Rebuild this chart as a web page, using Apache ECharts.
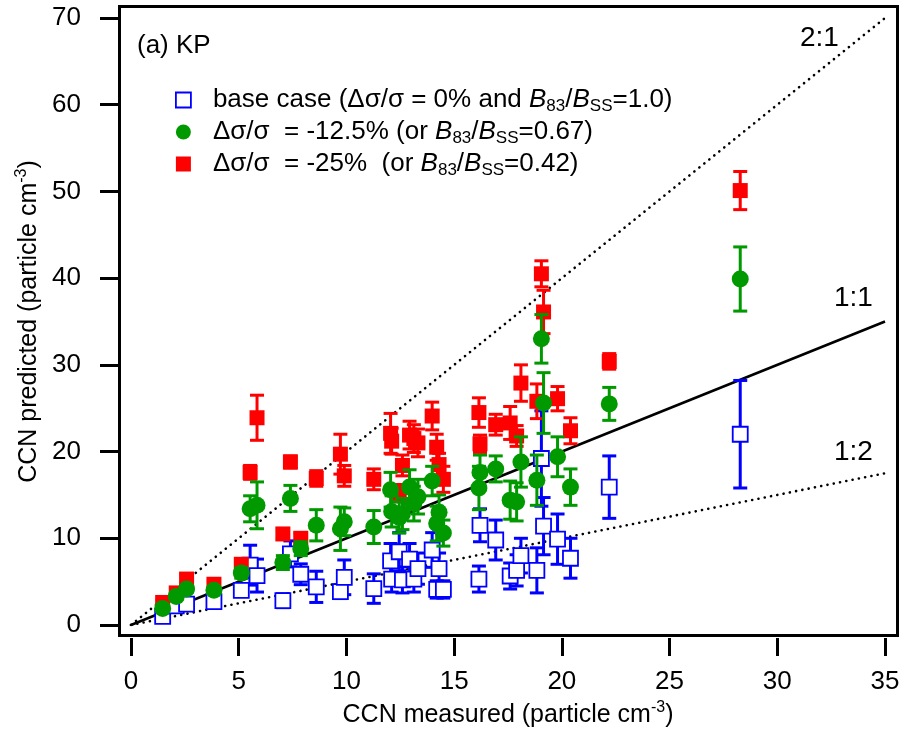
<!DOCTYPE html>
<html><head><meta charset="utf-8">
<script src="https://cdn.jsdelivr.net/npm/echarts@6/dist/echarts.min.js"></script>
<style>html,body{margin:0;padding:0;background:#fff}#c{width:905px;height:738px}</style>
</head><body><div id="c"></div>
<script>
// CCN measured (x) shared by all three cases
const ccnMeasured = [1.47, 2.1, 2.58, 3.85, 5.12, 5.53, 5.85, 7.05, 7.4, 7.88, 8.6, 9.72, 9.9, 11.27,
  12.05, 12.1, 12.45, 12.6, 12.93, 13.13, 13.32, 13.98, 14.19, 14.3, 14.5,
  16.15, 16.2, 16.93, 17.6, 17.9, 18.1, 18.84, 19.05, 19.15, 19.8, 20.4, 22.2, 28.28];
// base case
const predBase = [1.0, 2.2, 2.4, 2.7, 4.0, 6.9, 5.7, 2.8, 8.2, 5.85, 4.4, 3.85, 5.5, 4.2,
  7.4, 5.3, 8.45, 5.2, 7.6, 5.3, 6.5, 8.65, 4.1, 6.5, 4.1,
  5.3, 11.5, 9.8, 5.65, 6.3, 8.0, 6.3, 19.2, 11.4, 9.9, 7.7, 15.9, 22.0];
const errBase = [0.2, 0.3, 0.3, 0.4, 0.6, 2.3, 1.9, 0.8, 1.5, 1.2, 1.8, 0.8, 2.0, 1.7,
  2.0, 1.5, 2.2, 1.5, 1.8, 1.5, 1.8, 2.0, 1.0, 1.8, 1.0,
  1.5, 1.9, 2.3, 1.5, 1.8, 2.0, 2.6, 5.5, 3.3, 2.9, 2.3, 3.6, 6.2];
// -12.5 %
const predM125 = [1.9, 3.3, 4.15, 4.0, 6.0, 13.4, 13.8, 7.2, 14.6, 8.8, 11.5, 11.1, 11.9, 11.3,
  15.6, 13.1, 12.4, 12.8, 15.9, 14.0, 14.8, 16.6, 11.7, 13.0, 10.6,
  15.8, 17.6, 18.0, 14.4, 14.2, 18.8, 16.7, 33.0, 25.6, 19.4, 15.9, 25.5, 39.9];
const errM125 = [0.3, 0.4, 0.4, 0.4, 0.6, 1.5, 2.7, 0.8, 1.5, 0.8, 1.8, 2.5, 1.6, 1.9,
  2.0, 1.8, 1.8, 1.8, 2.0, 2.0, 2.0, 1.7, 2.0, 2.0, 1.5,
  2.5, 2.0, 1.5, 2.2, 2.2, 2.9, 2.9, 2.8, 3.5, 2.3, 2.1, 1.9, 3.7];
// -25 %
const predM25 = [2.6, 3.7, 5.3, 4.7, 7.0, 17.6, 23.9, 10.5, 18.8, 10.0, 16.9, 19.7, 17.2, 16.8,
  22.1, 21.2, 15.2, 18.4, 21.9, 21.5, 21.0, 24.1, 20.5, 18.5, 16.8,
  24.5, 20.9, 23.1, 23.3, 21.8, 27.9, 25.8, 40.5, 36.1, 26.1, 22.4, 30.4, 50.1];
const errM25 = [0.3, 0.4, 0.5, 0.4, 0.6, 0.8, 2.6, 0.6, 0.7, 0.6, 0.9, 2.3, 1.2, 1.2,
  2.3, 1.5, 1.0, 1.2, 1.6, 1.6, 1.6, 1.6, 1.5, 1.3, 1.5,
  1.7, 1.0, 1.2, 1.9, 1.2, 2.1, 2.0, 1.5, 2.5, 1.4, 1.5, 0.9, 2.2];
const xTicks = [0, 5, 10, 15, 20, 25, 30, 35];
const yTicks = [0, 10, 20, 30, 40, 50, 60, 70];
const ratioLines = [{label: '2:1', slope: 2}, {label: '1:1', slope: 1}, {label: '1:2', slope: 0.5}];

const FONT = 'Liberation Sans, Arial, Helvetica, sans-serif';
const BLUE = '#0000ff', GREEN = '#009900', RED = '#ff0000';

const chart = echarts.init(document.getElementById('c'), null, {renderer: 'canvas'});

function pts(ys) { return ccnMeasured.map((x, i) => [x, ys[i]]); }
function errs(ys, es) { return ccnMeasured.map((x, i) => [x, ys[i] - es[i], ys[i] + es[i]]); }
function errRender(color) {
  return function (params, api) {
    const x = api.value(0), lo = api.value(1), hi = api.value(2);
    const a = api.coord([x, hi]), b = api.coord([x, lo]);
    const hw = 7, st = {stroke: color, lineWidth: 3};
    return {type: 'group', children: [
      {type: 'line', shape: {x1: a[0], y1: a[1], x2: b[0], y2: b[1]}, style: st},
      {type: 'line', shape: {x1: a[0] - hw, y1: a[1], x2: a[0] + hw, y2: a[1]}, style: st},
      {type: 'line', shape: {x1: b[0] - hw, y1: b[1], x2: b[0] + hw, y2: b[1]}, style: st}
    ]};
  };
}

const xMax = xTicks[xTicks.length - 1];
const lineSeries = ratioLines.map(r => ({
  type: 'line', name: r.label, data: [[0, 0], [xMax, xMax * r.slope]],
  symbol: 'none', silent: true, z: 1,
  lineStyle: r.slope === 1 ? {color: '#000', width: 2.6} : {color: '#000', width: 2.6, type: [0.1, 6.3], cap: 'round'}
}));

const legendNames = {
  'base case': '{t|base case (Δσ/σ = 0% and }{i|B}{s|83}{t|/}{i|B}{s|SS}{t|=1.0)}',
  '-12.5%': '{t|Δσ/σ  = -12.5% (or }{i|B}{s|83}{t|/}{i|B}{s|SS}{t|=0.67)}',
  '-25%': '{t|Δσ/σ  = -25%  (or }{i|B}{s|83}{t|/}{i|B}{s|SS}{t|=0.42)}'
};
const rich = {
  t: {fontSize: 26, fontFamily: FONT, color: '#000', lineHeight: 30},
  i: {fontSize: 26, fontFamily: FONT, fontStyle: 'italic', color: '#000', lineHeight: 30},
  s: {fontSize: 17, fontFamily: FONT, color: '#000', lineHeight: 17, verticalAlign: 'bottom'},
  sup: {fontSize: 16, fontFamily: FONT, color: '#000', lineHeight: 16, verticalAlign: 'top'},
  a: {fontSize: 25, fontFamily: FONT, color: '#000', lineHeight: 30}
};
const labelStyle = () => ({font: '28px ' + FONT, fill: '#000', verticalAlign: 'middle'});

const option = {
  backgroundColor: '#fff',
  animation: false,
  grid: {left: 131, right: 20, top: 18, bottom: 113, containLabel: false},
  xAxis: {
    type: 'value', min: 0, max: xMax, interval: 5, position: 'bottom', offset: 13,
    axisLine: {show: false, onZero: false},
    axisTick: {show: true, length: 18, inside: false, lineStyle: {color: '#000', width: 3}},
    axisLabel: {fontSize: 26, fontFamily: FONT, color: '#000', margin: 31, customValues: xTicks},
    splitLine: {show: false},
    name: '{a|CCN measured (particle cm}{sup|-3}{a|)}', nameLocation: 'middle', nameGap: 62,
    nameTextStyle: {rich: rich}
  },
  yAxis: {
    type: 'value', min: 0, max: yTicks[yTicks.length - 1], interval: 10, position: 'left', offset: 12,
    axisLine: {show: true, onZero: false, lineStyle: {color: '#000', width: 3}},
    axisTick: {show: true, length: 19, inside: false, lineStyle: {color: '#000', width: 3}},
    axisLabel: {fontSize: 26, fontFamily: FONT, color: '#000', margin: 38},
    splitLine: {show: false},
    name: '{a|CCN predicted (particle cm}{sup|-3}{a|)}', nameLocation: 'middle', nameGap: 43,
    nameRotate: 90, nameTextStyle: {rich: rich}
  },
  legend: {
    orient: 'vertical', left: 170, top: 82, itemWidth: 15, itemHeight: 15, itemGap: 4,
    selectedMode: false,
    data: [
      {name: 'base case', icon: 'rect', itemStyle: {color: '#fff', borderColor: BLUE, borderWidth: 1.8}},
      {name: '-12.5%', icon: 'circle', itemStyle: {color: GREEN}},
      {name: '-25%', icon: 'rect', itemStyle: {color: RED}}
    ],
    formatter: n => legendNames[n],
    textStyle: {rich: rich, padding: [0, 0, 0, 17]}
  },
  graphic: [
    {type: 'rect', shape: {x: 119.5, y: 6.5, width: 778, height: 629}, style: {fill: 'none', stroke: '#000', lineWidth: 3}, z: 100, silent: true},
    {type: 'text', x: 137, y: 46, style: {text: '(a) KP', font: '26px ' + FONT, fill: '#000', verticalAlign: 'middle'}},
    {type: 'text', x: 800, y: 38, style: Object.assign(labelStyle(), {text: ratioLines[0].label})},
    {type: 'text', x: 834, y: 298, style: Object.assign(labelStyle(), {text: ratioLines[1].label})},
    {type: 'text', x: 834, y: 452, style: Object.assign(labelStyle(), {text: ratioLines[2].label})}
  ],
  series: [
    ...lineSeries,
    {type: 'custom', name: 'base err', data: errs(predBase, errBase), renderItem: errRender(BLUE), encode: {x: 0, y: [1, 2]}, z: 2, silent: true},
    {type: 'scatter', name: 'base case', data: pts(predBase), symbol: 'rect', symbolSize: 15,
      itemStyle: {color: '#fff', borderColor: BLUE, borderWidth: 1.8, opacity: 1}, z: 3},
    {type: 'custom', name: 'm25 err', data: errs(predM25, errM25), renderItem: errRender(RED), encode: {x: 0, y: [1, 2]}, z: 4, silent: true},
    {type: 'scatter', name: '-25%', data: pts(predM25), symbol: 'rect', symbolSize: 15,
      itemStyle: {color: RED, opacity: 1}, z: 5},
    {type: 'custom', name: 'm125 err', data: errs(predM125, errM125), renderItem: errRender(GREEN), encode: {x: 0, y: [1, 2]}, z: 6, silent: true},
    {type: 'scatter', name: '-12.5%', data: pts(predM125), symbol: 'circle', symbolSize: 17,
      itemStyle: {color: GREEN, opacity: 1}, z: 7}
  ]
};
chart.setOption(option);
</script>
</body></html>
